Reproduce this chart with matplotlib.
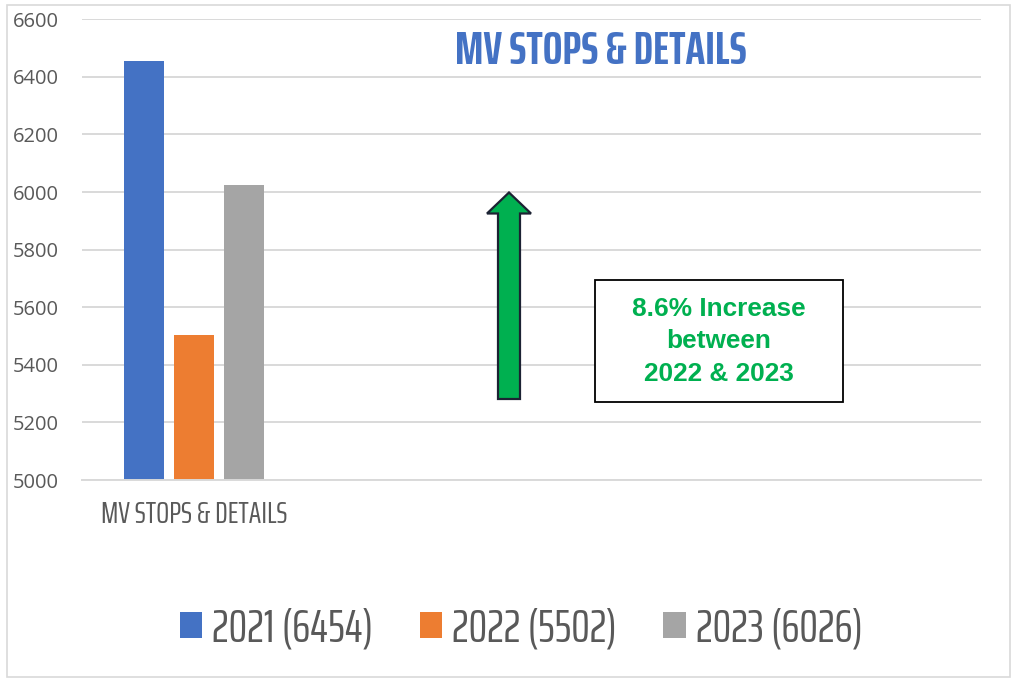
import matplotlib
matplotlib.use("Agg")
import matplotlib.pyplot as plt
from matplotlib.patches import Polygon, Rectangle
import numpy as np

# data
category = "MV STOPS & DETAILS"
series_names = ["2021 (6454)", "2022 (5502)", "2023 (6026)"]
series_values = [6454, 5502, 6026]
series_colors = ["#4472C4", "#ED7D31", "#A5A5A5"]
y_ticks = [5000, 5200, 5400, 5600, 5800, 6000, 6200, 6400, 6600]
title = "MV STOPS & DETAILS"
note = "8.6% Increase\nbetween\n2022 & 2023"

W, H = 1011, 679
cond = ["Saira ExtraCondensed", "DejaVu Sans"]
grey_txt = "#595959"
grid_c = "#D9D9D9"


def px(x, y):
    # pixel position (from top-left) -> figure fraction
    return (x / W, 1 - y / H)


fig = plt.figure(figsize=(W / 100, H / 100), dpi=100)
ax = fig.add_axes([82 / W, 1 - 480 / H, (981 - 82) / W, (480 - 19.3) / H])

# one category out of four slots, like the excel layout
n_slots = 4
bar_w = 40 / ((981 - 82) / n_slots)
gap = 10 / ((981 - 82) / n_slots)
bars = []
for i, (name, val, col) in enumerate(zip(series_names, series_values, series_colors)):
    b = ax.bar(0 + (i - 1) * (bar_w + gap), val, width=bar_w, color=col, label=name, zorder=3)
    bars.append(b)

ax.set_xlim(-0.5, n_slots - 0.5)
ax.set_ylim(5000, 6600)
ax.set_yticks(y_ticks)
ax.set_yticklabels([str(t) for t in y_ticks], family="Open Sans", fontsize=14.5, color=grey_txt)
ax.set_xticks([0])
ax.set_xticklabels([category], family=cond, fontsize=22, color=grey_txt)
ax.tick_params(axis="y", length=0, pad=17)
ax.tick_params(axis="x", length=0, pad=14.5)
ax.grid(axis="y", color=grid_c, lw=1.4, zorder=0)
ax.set_axisbelow(True)
for s in ["left", "right", "top"]:
    ax.spines[s].set_visible(False)
ax.spines["bottom"].set_color(grid_c)
ax.spines["bottom"].set_linewidth(1.4)
ax.spines["bottom"].set_zorder(4)

# outer chart border
fig.add_artist(Rectangle(px(6.5, 676.5), (1010 - 6.5) / W, (676.5 - 5) / H,
                         transform=fig.transFigure, fill=False, edgecolor=grid_c, lw=1.2))

fig.text(*px(601, 51.5), title, family=cond, fontsize=33.5, weight="bold",
         color="#4472C4", ha="center", va="center")

# up arrow
arrow_pts = [(509, 192.5), (531, 213.5), (520, 213.5), (520, 399), (498, 399), (498, 213.5), (487, 213.5)]
fig.add_artist(Polygon([px(x, y) for x, y in arrow_pts], closed=True, transform=fig.transFigure,
                       facecolor="#00B050", edgecolor="#1C2233", lw=1.6, joinstyle="miter"))

# note box
fig.add_artist(Rectangle(px(595, 401.5), (843 - 595) / W, (401.5 - 280) / H,
                         transform=fig.transFigure, facecolor="white", edgecolor="black", lw=1.3))
fig.text(*px(719, 341.5), note, family="Liberation Sans", fontsize=18.9, weight="bold",
         color="#00B050", ha="center", va="center", linespacing=1.45)

fig.legend(handles=[b[0] for b in bars], labels=series_names, loc="center",
           bbox_to_anchor=px(521, 629), ncol=3, frameon=False,
           prop={"family": cond, "size": 33.5}, labelcolor=grey_txt,
           handlelength=0.48, handleheight=0.48, handletextpad=0.22, columnspacing=1.0)

fig.savefig("out.png", dpi=100)
